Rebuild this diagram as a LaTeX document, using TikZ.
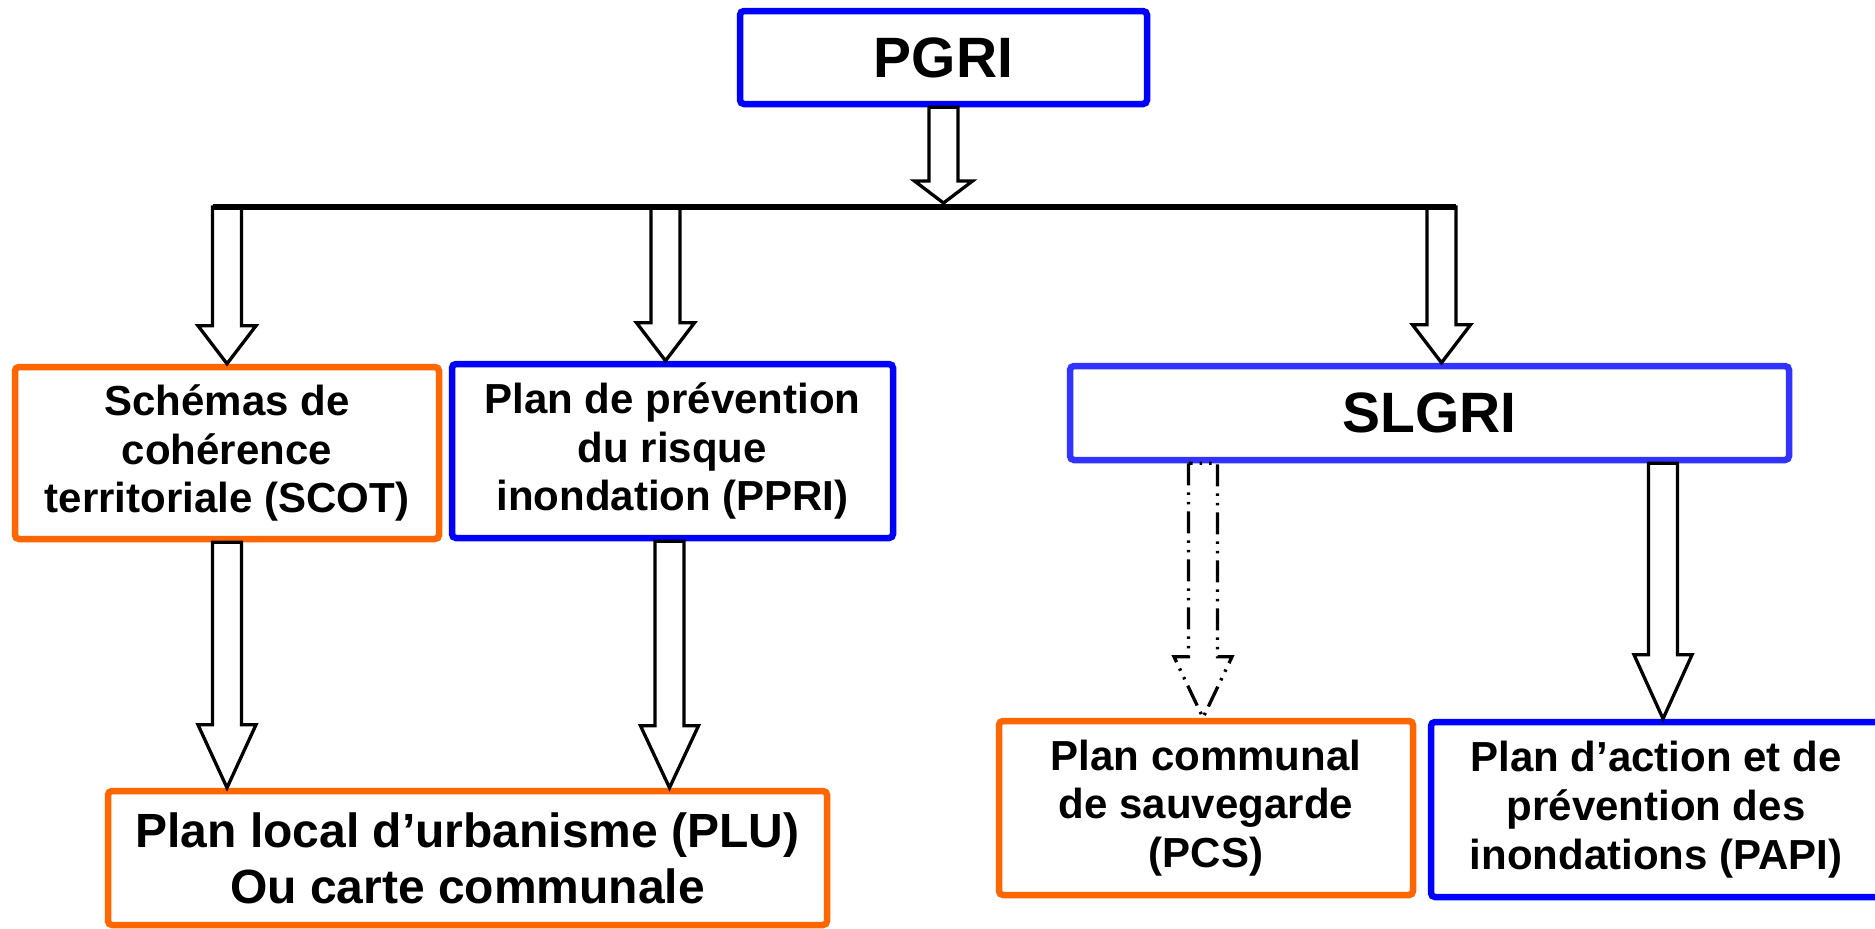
\documentclass[tikz,border=0pt]{standalone}
\usepackage{fontspec}
\setsansfont{Liberation Sans}
\usepackage{tikz}
\usetikzlibrary{positioning}
\usetikzlibrary{calc}
\definecolor{orng}{HTML}{FF6600}
\definecolor{bleu}{HTML}{0000FF}
\definecolor{bleuclair}{HTML}{3333FF}
\newcommand\blockarrow[4][]{%
  \draw[blockarr,#1] let \p1=(#2), \p2=(#3) in
    (\x2-1.45mm,\y1) -- (\x2-1.45mm,\y2+#4) -- (\x2-2.9mm,\y2+#4) -- (\x2,\y2)
    -- (\x2+2.9mm,\y2+#4) -- (\x2+1.45mm,\y2+#4) -- (\x2+1.45mm,\y1) -- cycle;}

\begin{document}
\begin{tikzpicture}[x=0.1mm,y=-0.1mm,
box/.style={draw,line width=0.65mm,rounded corners=0.4mm,inner sep=0pt,align=center,
  font=\sffamily\bfseries\fontsize{11.95}{13.9}\selectfont},
bigbox/.style={box,font=\sffamily\bfseries\fontsize{16.2}{19}\selectfont},
orangebox/.style={box,draw=orng},
bluebox/.style={box,draw=bleu},
blockarr/.style={draw=black,line width=0.33mm,line join=miter},
dashdotarr/.style={dash pattern=on 2.2mm off 0.7mm on 0.25mm off 0.7mm on 0.25mm off 0.7mm},
bar/.style={line width=0.65mm}]
\useasboundingbox (0,0) rectangle (1875,928);

\node[bigbox,draw=bleu,minimum width=40.7mm,minimum height=9.3mm] (pgri) at (943.5,57.5) {PGRI};
\node[orangebox,minimum width=42.4mm,minimum height=17.2mm] (scot) at (227,453) {Schémas de\\cohérence\\territoriale (SCOT)};
\node[bluebox,minimum width=44.1mm,minimum height=17.4mm] (ppri) at (672.5,451) {Plan de prévention\\du risque\\inondation (PPRI)};
\node[bigbox,draw=bleuclair,minimum width=71.9mm,minimum height=9.4mm] (slgri) at (1429.5,413) {SLGRI};
\node[orangebox,minimum width=71.9mm,minimum height=13.4mm,
  font=\sffamily\bfseries\fontsize{13.66}{15.9}\selectfont] (plu) at (467.5,858) {Plan local d’urbanisme (PLU)\\Ou carte communale};
\node[orangebox,minimum width=41.4mm,minimum height=17.4mm] (pcs) at (1206,808) {Plan communal\\de sauvegarde\\(PCS)};
\node[bluebox,minimum width=45mm,minimum height=17.5mm] (papi) at (1656,809.5) {Plan d’action et de\\prévention des\\inondations (PAPI)};

\coordinate (barL) at (213,207);
\coordinate (barR) at (1456,207);
\coordinate (hub) at (943.5,207);
\draw[bar] (barL) -- (barR);

\blockarrow{pgri.south}{$(pgri.south |- hub)+(0,-4)$}{2.2mm}
\blockarrow{barL}{scot.north}{3.8mm}
\blockarrow{barL}{$(ppri.north)+(-7,0)$}{3.8mm}
\blockarrow{barR}{$(slgri.north)+(12,0)$}{3.8mm}
\blockarrow{scot.south}{scot.south |- plu.north}{6.3mm}
\blockarrow{ppri.south}{$(ppri.south |- plu.north)+(-3,0)$}{6.2mm}
\blockarrow[dashdotarr]{slgri.south}{$(pcs.north)+(-3,0)$}{6.1mm}
\blockarrow{slgri.south}{$(papi.north)+(7,0)$}{6.4mm}
\end{tikzpicture}
\end{document}
